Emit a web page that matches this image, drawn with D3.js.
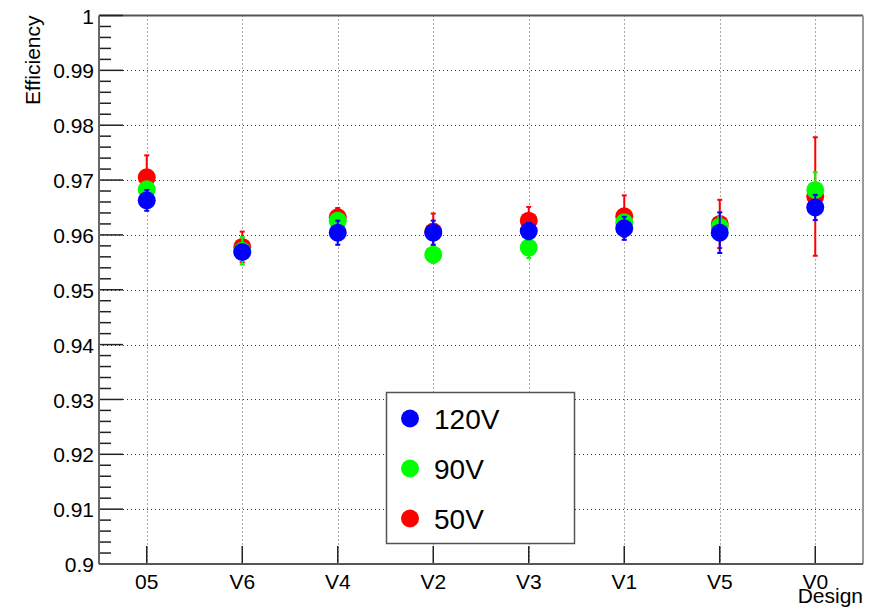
<!DOCTYPE html>
<html>
<head>
<meta charset="utf-8">
<script src="https://cdn.jsdelivr.net/npm/d3@7"></script>
<style>
  html, body { margin: 0; padding: 0; background: #fff; }
  svg { display: block; font-family: "Liberation Sans", Arial, Helvetica, sans-serif; }
</style>
</head>
<body>
<svg id="chart" width="876" height="610"></svg>
<script>
const categories = ["05", "V6", "V4", "V2", "V3", "V1", "V5", "V0"];
const yTicks = [0.9, 0.91, 0.92, 0.93, 0.94, 0.95, 0.96, 0.97, 0.98, 0.99, 1];
const yTickLabels = ["0.9", "0.91", "0.92", "0.93", "0.94", "0.95", "0.96", "0.97", "0.98", "0.99", "1"];

const eff50  = [0.9705, 0.9578, 0.9632, 0.9606, 0.9626, 0.9634, 0.9620, 0.9670];
const err50  = [0.0040, 0.0028, 0.0017, 0.0033, 0.0025, 0.0038, 0.0044, 0.0108];
const eff90  = [0.9683, 0.9571, 0.9626, 0.9564, 0.9577, 0.9623, 0.9615, 0.9682];
const err90  = [0.0012, 0.0025, 0.0014, 0.0015, 0.0019, 0.0012, 0.0017, 0.0032];
const eff120 = [0.9663, 0.9569, 0.9604, 0.9604, 0.9607, 0.9612, 0.9604, 0.9650];
const err120 = [0.0019, 0.0012, 0.0022, 0.0022, 0.0015, 0.0021, 0.0037, 0.0023];

const seriesNames = ["50V", "90V", "120V"];
const seriesColors = ["#ff0000", "#00ff00", "#0000ff"];
const seriesVals = [eff50, eff90, eff120];
const seriesErrs = [err50, err90, err120];

const svg = d3.select("#chart");
const L = 99, R = 863, T = 15.5, B = 564;

const x = d3.scaleBand().domain(categories).range([L, R]).padding(0);
const y = d3.scaleLinear().domain([0.9, 1]).range([B, T]);
const xc = c => x(c) + x.bandwidth() / 2;

// Grid
const grid = svg.append("g");
grid.selectAll("line.hg").data(yTicks.slice(1, -1)).enter().append("line")
  .attr("x1", L).attr("x2", R).attr("y1", d => Math.round(y(d)) + 0.5).attr("y2", d => Math.round(y(d)) + 0.5)
  .attr("stroke", "#333").attr("stroke-width", 1).attr("stroke-dasharray", "1,3");
grid.selectAll("line.vg").data(categories).enter().append("line")
  .attr("x1", d => Math.round(xc(d)) + 0.5).attr("x2", d => Math.round(xc(d)) + 0.5).attr("y1", T).attr("y2", B)
  .attr("stroke", "#555").attr("stroke-width", 1).attr("stroke-dasharray", "1,3");

// Frame (top, right)
svg.append("line").attr("x1", L).attr("x2", R).attr("y1", T).attr("y2", T).attr("stroke", "#555").attr("stroke-width", 2);
svg.append("line").attr("x1", R).attr("x2", R).attr("y1", T).attr("y2", B).attr("stroke", "#999").attr("stroke-width", 2);

// Y axis
const yAxis = d3.axisLeft(y).tickValues(yTicks).tickFormat((d, i) => yTickLabels[i]).tickSize(0).tickPadding(5);
const gy = svg.append("g").attr("transform", `translate(${L},0)`).call(yAxis);
gy.select(".domain").remove();
gy.selectAll("text").attr("font-size", 21).attr("fill", "#000").attr("font-family", "Liberation Sans, Arial, sans-serif").attr("dy", "0.36em");
// major and minor ticks (drawn inside)
const minorTicks = d3.range(0, 50).map(i => 0.9 + i * 0.002).filter((d, i) => i % 5 !== 0);
svg.append("g").selectAll("line").data(minorTicks).enter().append("line")
  .attr("x1", L).attr("x2", L + 12).attr("y1", d => y(d)).attr("y2", d => y(d))
  .attr("stroke", "#222").attr("stroke-width", 1.5);
svg.append("g").selectAll("line").data(yTicks).enter().append("line")
  .attr("x1", L).attr("x2", L + 24).attr("y1", d => y(d)).attr("y2", d => y(d))
  .attr("stroke", "#222").attr("stroke-width", 1.5);

// X axis
const xAxis = d3.axisBottom(x).tickSize(0).tickPadding(10);
const gx = svg.append("g").attr("transform", `translate(0,${B})`).call(xAxis);
gx.select(".domain").remove();
gx.selectAll("text").attr("font-size", 21).attr("fill", "#000").attr("font-family", "Liberation Sans, Arial, sans-serif");
svg.append("g").selectAll("line").data(categories).enter().append("line")
  .attr("x1", d => xc(d)).attr("x2", d => xc(d)).attr("y1", B).attr("y2", B - 18)
  .attr("stroke", "#222").attr("stroke-width", 1.5);

// Axis lines (left, bottom)
svg.append("line").attr("x1", L).attr("x2", L).attr("y1", T).attr("y2", B).attr("stroke", "#666").attr("stroke-width", 2);
svg.append("line").attr("x1", L).attr("x2", R).attr("y1", B).attr("y2", B).attr("stroke", "#555").attr("stroke-width", 2);

// Axis titles
svg.append("text").attr("transform", `translate(40,${T}) rotate(-90)`).attr("text-anchor", "end")
  .attr("font-size", 21).attr("fill", "#000").text("Efficiency");
svg.append("text").attr("x", R).attr("y", 603).attr("text-anchor", "end")
  .attr("font-size", 21).attr("fill", "#000").text("Design");

// Data: error bars and markers
seriesNames.forEach((name, s) => {
  const g = svg.append("g");
  const data = categories.map((c, i) => ({ c, v: seriesVals[s][i], e: seriesErrs[s][i] }));
  g.selectAll("line.eb").data(data).enter().append("line")
    .attr("x1", d => xc(d.c)).attr("x2", d => xc(d.c))
    .attr("y1", d => y(d.v - d.e)).attr("y2", d => y(d.v + d.e))
    .attr("stroke", seriesColors[s]).attr("stroke-width", 2);
  [-1, 1].forEach(sign => {
    g.selectAll("line.cap" + sign).data(data).enter().append("line")
      .attr("x1", d => xc(d.c) - 2.5).attr("x2", d => xc(d.c) + 2.5)
      .attr("y1", d => y(d.v + sign * d.e)).attr("y2", d => y(d.v + sign * d.e))
      .attr("stroke", seriesColors[s]).attr("stroke-width", 2);
  });
  g.selectAll("circle").data(data).enter().append("circle")
    .attr("cx", d => xc(d.c)).attr("cy", d => y(d.v)).attr("r", 9)
    .attr("fill", seriesColors[s]);
});

// Legend
const leg = svg.append("g");
leg.append("rect").attr("x", 386.5).attr("y", 392.5).attr("width", 188).attr("height", 151)
  .attr("fill", "#fff").attr("stroke", "#555").attr("stroke-width", 1.5);
const legOrder = [2, 1, 0];
legOrder.forEach((s, k) => {
  const cy = 418.5 + k * 50;
  leg.append("circle").attr("cx", 410).attr("cy", cy).attr("r", 9).attr("fill", seriesColors[s]);
  leg.append("text").attr("x", 434).attr("y", cy).attr("dy", "0.36em")
    .attr("font-size", 28).attr("fill", "#000").text(seriesNames[s]);
});
</script>
</body>
</html>
